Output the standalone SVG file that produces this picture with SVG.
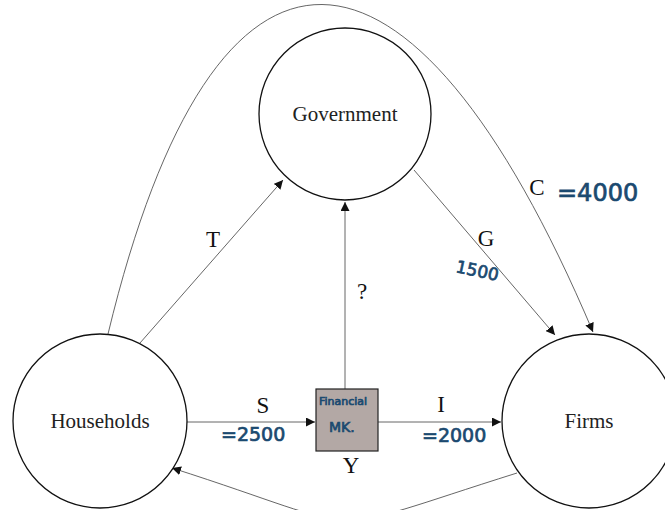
<svg xmlns="http://www.w3.org/2000/svg" width="665" height="510" viewBox="0 0 665 510">
<style>
.node{fill:#fff;stroke:#111;stroke-width:1.3}
.lbl{font-family:"Liberation Serif",serif;font-size:21px;fill:#222;text-anchor:middle;dominant-baseline:central}
.edge{fill:none;stroke:#555;stroke-width:0.9}
.el{font-family:"Liberation Serif",serif;font-size:23px;fill:#111;text-anchor:middle;dominant-baseline:central}
.hand{font-family:"DejaVu Sans",sans-serif;fill:#1b4a70;stroke:#1b4a70;stroke-width:0.7}
</style>
<defs>
<marker id="ah" viewBox="0 0 10 10" refX="10" refY="5" markerWidth="9" markerHeight="9" markerUnits="userSpaceOnUse" orient="auto">
<path d="M0,0 L10,5 L0,10 z" fill="#111"/>
</marker>
</defs>
<rect width="665" height="510" fill="#fff"/>
<g id="connectors">
<path class="edge" d="M108,334 C215,-110 410,-100 593,332" marker-end="url(#ah)"/>
<path class="edge" d="M140,343 L283,180" marker-end="url(#ah)"/>
<path class="edge" d="M345,389 L345,202" marker-end="url(#ah)"/>
<path class="edge" d="M414,170 L555,335" marker-end="url(#ah)"/>
<path class="edge" d="M187,422 L315,422" marker-end="url(#ah)"/>
<path class="edge" d="M378,422 L501,422" marker-end="url(#ah)"/>
<path class="edge" d="M517,473 C310,538 379,534 172,468" marker-end="url(#ah)"/>
<text class="el" x="213" y="239">T</text>
<text class="el" x="486" y="238">G</text>
<text class="el" x="362" y="291">?</text>
<text class="el" x="537" y="187">C</text>
<text class="el" x="263" y="405">S</text>
<text class="el" x="441" y="404">I</text>
<text class="el" x="351" y="465">Y</text>
</g>
<g id="government">
<circle class="node" cx="345" cy="114" r="86"/>
<text class="lbl" x="345" y="114">Government</text>
</g>
<g id="households">
<circle class="node" cx="100" cy="421" r="87"/>
<text class="lbl" x="100" y="421">Households</text>
</g>
<g id="firms">
<circle class="node" cx="589" cy="421" r="87"/>
<text class="lbl" x="589" y="421">Firms</text>
</g>
<g id="financial">
<rect x="316" y="389" width="62" height="62" fill="#b3a8a5" stroke="#222" stroke-width="1.2"/>
<text class="hand" x="319" y="405" font-size="11" stroke-width="0.4">Financial</text>
<text class="hand" x="329" y="432" font-size="14" stroke-width="0.5">MK.</text>
</g>
<g id="annotations">
<text class="hand" x="221" y="441" font-size="19">=2500</text>
<text class="hand" x="422" y="442" font-size="19">=2000</text>
<text class="hand" x="557" y="201" font-size="24">=4000</text>
<text class="hand" x="455" y="272" font-size="17" transform="rotate(12 455 272)">1500</text>
</g>
</svg>
